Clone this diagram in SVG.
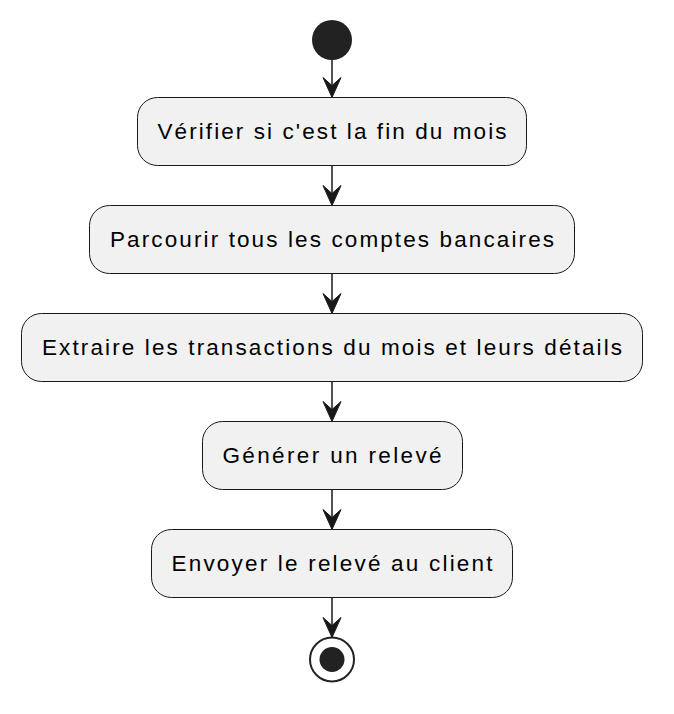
<svg xmlns="http://www.w3.org/2000/svg" width="674" height="714" viewBox="0 0 674 714">
<style>
.box{fill:#F1F1F1;stroke:#181818;stroke-width:1;}
.lbl{font-family:"Liberation Sans",Arial,sans-serif;font-size:22.5px;fill:#000;text-anchor:middle;}
.ln{stroke:#181818;stroke-width:1.5;fill:none;}
.ah{fill:#181818;stroke:#181818;stroke-width:1;}
</style>
<rect width="674" height="714" fill="#FFFFFF"/>
<g id="start"><circle cx="332" cy="40" r="20" fill="#222222"/></g>
<g id="n1"><rect class="box" x="137.5" y="97.5" width="389" height="68" rx="20" ry="20"/><text class="lbl" x="332" y="139" textLength="349" lengthAdjust="spacing">Vérifier si c'est la fin du mois</text></g>
<g id="n2"><rect class="box" x="89.5" y="205.5" width="485" height="68" rx="20" ry="20"/><text class="lbl" x="332" y="247" textLength="444" lengthAdjust="spacing">Parcourir tous les comptes bancaires</text></g>
<g id="n3"><rect class="box" x="21.5" y="313.5" width="621" height="68" rx="20" ry="20"/><text class="lbl" x="332" y="355" textLength="580" lengthAdjust="spacing">Extraire les transactions du mois et leurs détails</text></g>
<g id="n4"><rect class="box" x="202.5" y="421.5" width="260" height="68" rx="20" ry="20"/><text class="lbl" x="332" y="463" textLength="219" lengthAdjust="spacing">Générer un relevé</text></g>
<g id="n5"><rect class="box" x="151.5" y="529.5" width="361" height="68" rx="20" ry="20"/><text class="lbl" x="332" y="571" textLength="321" lengthAdjust="spacing">Envoyer le relevé au client</text></g>
<g id="end"><circle cx="332" cy="659.5" r="22" fill="none" stroke="#222222" stroke-width="2"/><circle cx="332" cy="659.5" r="12.5" fill="#222222"/></g>
<g id="connectors">
<line class="ln" x1="332" y1="60" x2="332" y2="92"/>
<polygon class="ah" points="332,97.5 323,77.5 332,85.5 341,77.5"/>
<line class="ln" x1="332" y1="165.5" x2="332" y2="200"/>
<polygon class="ah" points="332,205.5 323,185.5 332,193.5 341,185.5"/>
<line class="ln" x1="332" y1="273.5" x2="332" y2="308"/>
<polygon class="ah" points="332,313.5 323,293.5 332,301.5 341,293.5"/>
<line class="ln" x1="332" y1="381.5" x2="332" y2="416"/>
<polygon class="ah" points="332,421.5 323,401.5 332,409.5 341,401.5"/>
<line class="ln" x1="332" y1="489.5" x2="332" y2="524"/>
<polygon class="ah" points="332,529.5 323,509.5 332,517.5 341,509.5"/>
<line class="ln" x1="332" y1="597.5" x2="332" y2="632"/>
<polygon class="ah" points="332,637.5 323,617.5 332,625.5 341,617.5"/>
</g>
</svg>
